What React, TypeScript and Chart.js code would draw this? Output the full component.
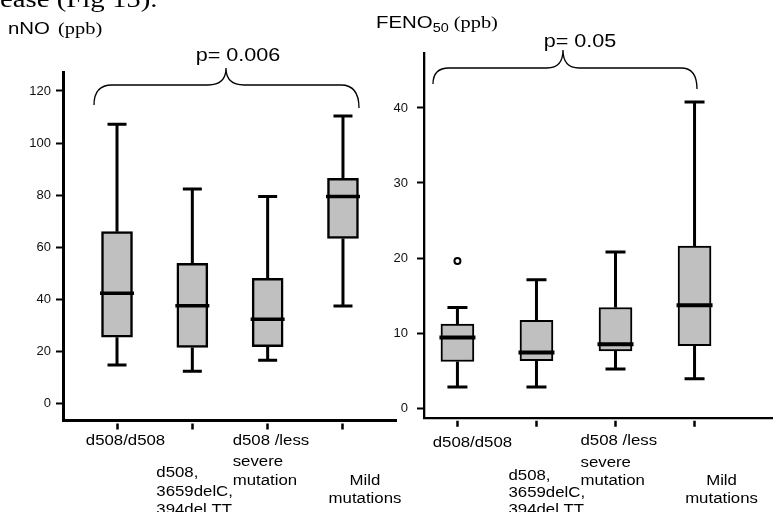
import React, { useEffect, useRef } from 'react';
import { Chart, registerables } from 'chart.js';

Chart.register(...registerables);

// ---------- data ----------
const CATEGORY_LINES: string[][] = [
  ['d508/d508'],
  ['d508,', '3659delC,', '394del TT'],
  ['d508 /less', 'severe', 'mutation'],
  ['Mild', 'mutations'],
];

const HEADER_TEXT = 'ease (Fig 15).';
const NNO_TITLE = 'nNO';
const FENO_TITLE = 'FENO';
const FENO_SUB = '50';
const UNIT_TEXT = '(ppb)';
const NNO_P_TEXT = 'p= 0.006';
const FENO_P_TEXT = 'p= 0.05';

const NNO_TICKS = [0, 20, 40, 60, 80, 100, 120];
const NNO_MIN = [14.6, 12.2, 16.5, 37.3];
const NNO_Q1 = [25.3, 21.4, 21.7, 63.3];
const NNO_MEDIAN = [42.2, 37.4, 32.2, 79.4];
const NNO_Q3 = [65.9, 53.7, 48.0, 86.4];
const NNO_MAX = [107.2, 82.3, 79.4, 110.4];

const FENO_TICKS = [0, 10, 20, 30, 40];
const FENO_MIN = [2.8, 2.8, 5.2, 3.9];
const FENO_Q1 = [6.2, 6.3, 7.6, 8.3];
const FENO_MEDIAN = [9.4, 7.4, 8.5, 13.7];
const FENO_Q3 = [11.2, 11.7, 13.4, 21.6];
const FENO_MAX = [13.4, 17.1, 20.8, 40.8];
const FENO_OUTLIER_CATEGORY = [1];
const FENO_OUTLIER_VALUE = [19.6];

// ---------- styling helpers ----------
const SANS = '"Liberation Sans", Arial, sans-serif';
const SERIF = '"Liberation Serif", "Times New Roman", serif';
const SX = 1.2; // horizontal stretch of the original figure's text

function drawText(ctx: CanvasRenderingContext2D, text: string, x: number, y: number, font: string, align: CanvasTextAlign = 'left') {
  ctx.save();
  ctx.font = font;
  ctx.fillStyle = '#000';
  ctx.textAlign = align;
  ctx.textBaseline = 'alphabetic';
  ctx.translate(x, y);
  ctx.scale(SX, 1);
  ctx.fillText(text, 0, 0);
  ctx.restore();
}

function textWidth(ctx: CanvasRenderingContext2D, text: string, font: string) {
  ctx.save();
  ctx.font = font;
  const w = ctx.measureText(text).width * SX;
  ctx.restore();
  return w;
}

function bracket(ctx: CanvasRenderingContext2D, x0: number, y0: number, x1: number, y1: number, yh: number, xm: number, ym: number, r: number) {
  ctx.save();
  ctx.strokeStyle = '#000';
  ctx.lineWidth = 1.3;
  ctx.beginPath();
  ctx.moveTo(x0, y0);
  ctx.quadraticCurveTo(x0, yh, x0 + r, yh);
  ctx.lineTo(xm - r, yh);
  ctx.quadraticCurveTo(xm, yh, xm, ym);
  ctx.quadraticCurveTo(xm, yh, xm + r, yh);
  ctx.lineTo(x1 - r, yh);
  ctx.quadraticCurveTo(x1, yh, x1, y1);
  ctx.stroke();
  ctx.restore();
}

function drawLeftDecor(ctx: CanvasRenderingContext2D) {
  drawText(ctx, HEADER_TEXT, 0, 7, `24px ${SERIF}`);
  drawText(ctx, NNO_TITLE, 8, 34, `17px ${SANS}`);
  drawText(ctx, UNIT_TEXT, 58, 34, `17px ${SERIF}`);
  drawText(ctx, NNO_P_TEXT, 238, 61, `18px ${SANS}`, 'center');
  bracket(ctx, 94, 105, 359, 108, 85, 226, 68, 18);
}

function drawRightDecor(ctx: CanvasRenderingContext2D) {
  const f1 = `17px ${SANS}`;
  const f2 = `12px ${SANS}`;
  let x = 376;
  drawText(ctx, FENO_TITLE, x, 28, f1);
  x += textWidth(ctx, FENO_TITLE, f1);
  drawText(ctx, FENO_SUB, x, 32, f2);
  x += textWidth(ctx, FENO_SUB, f2) + 5;
  drawText(ctx, UNIT_TEXT, x, 28, `17px ${SERIF}`);
  drawText(ctx, FENO_P_TEXT, 580, 47, `18px ${SANS}`, 'center');
  bracket(ctx, 433, 84, 697, 89, 68, 563, 50, 16);
}

type LabelLayout = { dx: number; align: CanvasTextAlign; y: number[] };

interface PanelSpec {
  min: number[]; q1: number[]; median: number[]; q3: number[]; max: number[];
  outCat: number[]; outVal: number[];
  yTicks: number[]; yMin: number; yMax: number; xMin: number; xMax: number;
  padding: { left: number; top: number; right: number; bottom: number };
  yAxisWidth: number; xAxisHeight: number; axisWidth: number; tickPadding: number;
  boxWidth: number; capWidth: number; whiskerWidth: number; medianWidth: number; boxBorder: number;
  labels: LabelLayout[];
  decorate: (ctx: CanvasRenderingContext2D) => void;
}

const LEFT_SPEC: PanelSpec = {
  min: NNO_MIN, q1: NNO_Q1, median: NNO_MEDIAN, q3: NNO_Q3, max: NNO_MAX,
  outCat: [], outVal: [],
  yTicks: NNO_TICKS, yMin: -6.5, yMax: 127.3, xMin: 0.283, xMax: 4.704,
  padding: { left: 23, top: 72, right: 382, bottom: 0 },
  yAxisWidth: 40, xAxisHeight: 92, axisWidth: 3, tickPadding: 5,
  boxWidth: 31, capWidth: 19, whiskerWidth: 3, medianWidth: 3.5, boxBorder: 2.5,
  labels: [
    { dx: 8.5, align: 'center', y: [445] },
    { dx: -36, align: 'left', y: [477, 496, 514] },
    { dx: -35, align: 'left', y: [445, 466, 485] },
    { dx: 22, align: 'center', y: [485, 503] },
  ],
  decorate: drawLeftDecor,
};

const RIGHT_SPEC: PanelSpec = {
  min: FENO_MIN, q1: FENO_Q1, median: FENO_MEDIAN, q3: FENO_Q3, max: FENO_MAX,
  outCat: FENO_OUTLIER_CATEGORY, outVal: FENO_OUTLIER_VALUE,
  yTicks: FENO_TICKS, yMin: -1.33, yMax: 47.33, xMin: 0.577, xMax: 4.98,
  padding: { left: 388, top: 53, right: 0, bottom: 0 },
  yAxisWidth: 36, xAxisHeight: 94, axisWidth: 2.3, tickPadding: 9,
  boxWidth: 33, capWidth: 20, whiskerWidth: 3, medianWidth: 4, boxBorder: 2,
  labels: [
    { dx: 15, align: 'center', y: [447] },
    { dx: -28, align: 'left', y: [480, 497, 514] },
    { dx: -35, align: 'left', y: [445, 467, 485] },
    { dx: 27, align: 'center', y: [485, 503] },
  ],
  decorate: drawRightDecor,
};

function makeChart(canvas: HTMLCanvasElement, s: PanelSpec) {
  const boxPlugin = {
    id: 'boxWhiskers',
    beforeDatasetsDraw(chart: any) {
      const { ctx } = chart;
      const x = chart.scales.x;
      const y = chart.scales.y;
      ctx.save();
      ctx.strokeStyle = '#000';
      ctx.lineCap = 'butt';
      s.min.forEach((mn, i) => {
        const px = x.getPixelForValue(i + 1);
        ctx.lineWidth = s.whiskerWidth;
        ctx.beginPath();
        ctx.moveTo(px, y.getPixelForValue(s.max[i]));
        ctx.lineTo(px, y.getPixelForValue(s.q3[i]));
        ctx.moveTo(px, y.getPixelForValue(s.q1[i]));
        ctx.lineTo(px, y.getPixelForValue(mn));
        ctx.stroke();
        ctx.lineWidth = 3;
        ctx.beginPath();
        [mn, s.max[i]].forEach((v) => {
          const py = y.getPixelForValue(v);
          ctx.moveTo(px - s.capWidth / 2, py);
          ctx.lineTo(px + s.capWidth / 2, py);
        });
        ctx.stroke();
      });
      ctx.restore();
    },
    afterDatasetsDraw(chart: any) {
      const { ctx } = chart;
      const x = chart.scales.x;
      const y = chart.scales.y;
      ctx.save();
      ctx.strokeStyle = '#000';
      ctx.lineWidth = s.medianWidth;
      s.median.forEach((m, i) => {
        const px = x.getPixelForValue(i + 1);
        const py = y.getPixelForValue(m);
        ctx.beginPath();
        ctx.moveTo(px - s.boxWidth / 2 - 1.5, py);
        ctx.lineTo(px + s.boxWidth / 2 + 1.5, py);
        ctx.stroke();
      });
      ctx.restore();
    },
    afterDraw(chart: any) {
      const { ctx } = chart;
      const x = chart.scales.x;
      CATEGORY_LINES.forEach((lines, i) => {
        const lay = s.labels[i];
        const px = x.getPixelForValue(i + 1) + lay.dx;
        lines.forEach((line, j) => drawText(ctx, line, px, lay.y[j], `14px ${SANS}`, lay.align));
      });
      s.decorate(ctx);
    },
  };

  return new Chart(canvas, {
    type: 'bar',
    data: {
      datasets: [
        {
          type: 'scatter',
          data: s.outCat.map((c, i) => ({ x: c, y: s.outVal[i] })),
          pointRadius: 3,
          pointBorderWidth: 2,
          pointBackgroundColor: '#fff',
          pointBorderColor: '#000',
          order: 0,
        } as any,
        {
          type: 'bar',
          data: s.q1.map((q, i) => ({ x: i + 1, y: [q, s.q3[i]] })),
          backgroundColor: '#c0c0c0',
          borderColor: '#000',
          borderWidth: s.boxBorder,
          borderSkipped: false,
          barThickness: s.boxWidth,
          grouped: false,
          order: 1,
        } as any,
      ],
    },
    options: {
      responsive: false,
      animation: false,
      devicePixelRatio: 1,
      events: [],
      layout: { padding: s.padding },
      plugins: { legend: { display: false }, tooltip: { enabled: false } },
      scales: {
        x: {
          type: 'linear',
          min: s.xMin,
          max: s.xMax,
          offset: false,
          afterBuildTicks: (a: any) => { a.ticks = CATEGORY_LINES.map((_, i) => ({ value: i + 1 })); },
          afterFit: (sc: any) => { sc.height = s.xAxisHeight; },
          ticks: { display: false },
          grid: {
            display: true,
            drawOnChartArea: false,
            offset: false,
            drawTicks: true,
            tickLength: 10,
            tickWidth: 2.5,
            tickColor: '#000',
            tickBorderDash: [0, 1.5, 6, 50],
          },
          border: { display: true, color: '#000', width: s.axisWidth },
        },
        y: {
          type: 'linear',
          min: s.yMin,
          max: s.yMax,
          afterBuildTicks: (a: any) => { a.ticks = s.yTicks.map((v) => ({ value: v })); },
          afterFit: (sc: any) => { sc.width = s.yAxisWidth; },
          ticks: { font: { size: 13, family: SANS }, color: '#111', padding: s.tickPadding },
          grid: { drawOnChartArea: false, tickLength: 7, tickWidth: 2, tickColor: '#000' },
          border: { display: true, color: '#000', width: s.axisWidth },
        },
      },
    } as any,
    plugins: [boxPlugin],
  });
}

export default function App() {
  const leftRef = useRef<HTMLCanvasElement>(null);
  const rightRef = useRef<HTMLCanvasElement>(null);
  useEffect(() => {
    const c1 = makeChart(leftRef.current as HTMLCanvasElement, LEFT_SPEC);
    const c2 = makeChart(rightRef.current as HTMLCanvasElement, RIGHT_SPEC);
    return () => { c1.destroy(); c2.destroy(); };
  }, []);
  return (
    <div style={{ position: 'absolute', left: 0, top: 0, width: 778, height: 512, overflow: 'hidden', background: '#fff' }}>
      <canvas ref={leftRef} width={778} height={512} style={{ position: 'absolute', left: 0, top: 0 }} />
      <canvas ref={rightRef} width={778} height={512} style={{ position: 'absolute', left: 0, top: 0 }} />
    </div>
  );
}
